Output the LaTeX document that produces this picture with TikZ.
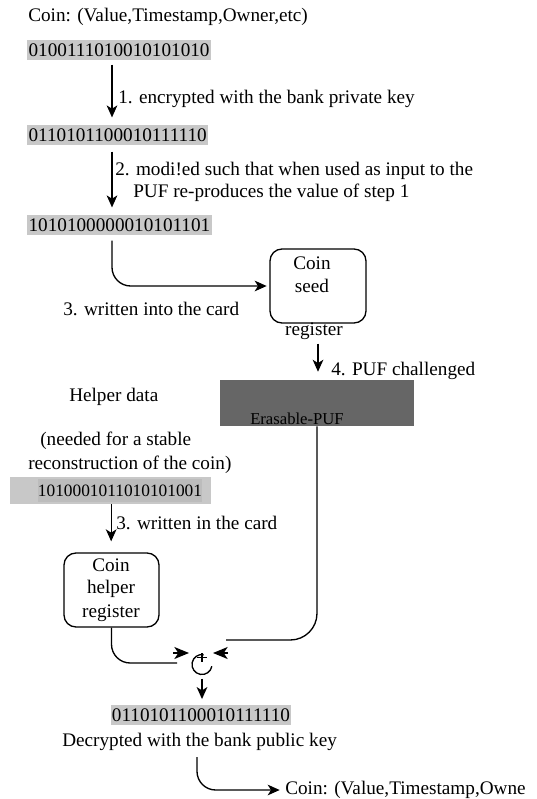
\documentclass[tikz,border=0pt]{standalone}
\usepackage{fontspec}
\setmainfont{Liberation Serif}
\usetikzlibrary{arrows.meta}
\definecolor{barc}{RGB}{200,200,200}
\definecolor{barin}{RGB}{188,188,188}
\definecolor{pufc}{RGB}{102,102,102}
\begin{document}
\begin{tikzpicture}[x=0.75pt,y=0.75pt,
  txt/.style={font=\fontsize{14.4}{17}\selectfont, inner sep=0pt, anchor=west},
  ctxt/.style={font=\fontsize{14.4}{17}\selectfont, inner sep=0pt},
  bits/.style={font=\fontsize{14.4}{17}\selectfont, fill=barc, inner xsep=1pt, inner ysep=0pt, minimum height=15.5pt},
  reg/.style={draw, line width=1pt, rounded corners=9pt},
  ln/.style={draw, line width=1pt},
  arr/.style={ln, -{Stealth[length=9pt,width=8pt,inset=2.5pt]}},
  bigarr/.style={ln, -{Stealth[length=11pt,width=9pt,inset=3pt]}}
]
\useasboundingbox (0,0) rectangle (536,-799);
\clip (0,0) rectangle (536,-799);

% top
\node[txt] (coin) at (28,-17) {Coin: (Value,Timestamp,Owner,etc)};
\node[bits, anchor=west] (b1) at (27,-50) {0100111010010101010};
\node[bits, anchor=west] (b2) at (27,-135) {0110101100010111110};
\node[bits, anchor=west] (b3) at (27,-225) {1010100000010101101};

\draw[arr] ([shift={(85,-4)}]b1.south west) -- ([shift={(85,7)}]b2.north west);
\node[txt] (l1) at (118,-99) {1. encrypted with the bank private key};
\draw[arr] ([shift={(85,-6)}]b2.south west) -- ([shift={(85,7)}]b3.north west);
\node[txt] (l2a) at (115,-171) {2. modi!ed such that when used as input to the};
\node[txt] (l2b) at (133,-193) {PUF re-produces the value of step 1};

% coin seed register
\node[reg, minimum width=72pt, minimum height=55.5pt] (seed) at (318,-286) {};
\node[ctxt] (seedt1) at (312,-263) {Coin};
\node[ctxt] (seedt2) at (312,-286) {seed};
\node[ctxt] (seedreg) at (314,-331) {register};
\draw[arr, rounded corners=14pt] ([shift={(85,-5)}]b3.south west) |- ([xshift=-2]seed.west);
\node[txt] (l3) at (63,-309) {3. written into the card};

% PUF
\node[fill=pufc, minimum width=145.5pt, minimum height=34.5pt, inner sep=0pt] (puf) at (317,-403) {};
\node[font=\fontsize{12.5}{14}\selectfont, inner sep=0pt] (puft) at (297,-419) {Erasable-PUF};
\draw[arr] ([shift={(4,-4)}]seedreg.south) -- ([shift={(1,8)}]puf.north);
\node[txt] (l4) at (331,-371) {4. PUF challenged};

% helper data
\node[txt] (hd) at (69,-397) {Helper data};
\node[txt] (hd2) at (40,-441) {(needed for a stable};
\node[txt] (hd3) at (28,-465) {reconstruction of the coin)};
\node[fill=barc, minimum width=150.75pt, minimum height=20.25pt, inner sep=0pt] (hb) at (110.5,-490.5) {};
\node[fill=barin, font=\fontsize{13}{15}\selectfont, inner xsep=0pt, inner ysep=0pt, minimum height=17pt] (hbits) at (120,-490.5) {1010001011010101001};
\draw[arr] ([xshift=0.5]hb.south) -- ([xshift=0.5, yshift=5]hb.south |- 0,-548);
\node[txt] (l5) at (116,-523) {3. written in the card};

\node[reg, minimum width=71.25pt, minimum height=55.5pt] (hreg) at (111.5,-590) {};
\node[ctxt] (hregt1) at (111,-565) {Coin};
\node[ctxt] (hregt2) at (111,-589) {helper};
\node[ctxt] (hregt3) at (111,-613) {register};

% xor
\coordinate (xc) at (202,-664.5);
\draw[ln] (xc) ++(80:7.5pt) arc[start angle=80, end angle=350, radius=7.5pt];
\draw[line width=0.8pt] (197,-657.5) -- (207,-657.5) (202,-653) -- (202,-662);
\coordinate (rend) at (226,-640);
\coordinate (lend) at (177,-663);
\draw[ln, rounded corners=20pt] (puf.south) |- (rend);
\draw[ln, rounded corners=14pt] (hreg.south) |- (lend);
\coordinate (rtipA) at (228,-653);
\coordinate (rtipB) at (213,-653);
\coordinate (ltipA) at (173,-653);
\coordinate (ltipB) at (189,-653);
\draw[bigarr] (rtipA) -- (rtipB);
\draw[bigarr] (ltipA) -- (ltipB);

% result
\node[bits] (rb) at (201,-715) {0110101100010111110};
\draw[arr] ([yshift=-10.5]xc) -- ([yshift=4]rb.north -| xc);
\node[txt] (dec) at (62,-742) {Decrypted with the bank public key};
\node[txt] (coinout) at (285,-790) {Coin: (Value,Timestamp,Owne};
\draw[arr, rounded corners=14pt] ([shift={(-4,-6)}]dec.south -| rb.south) |- ([xshift=-4]coinout.west);
\end{tikzpicture}
\end{document}
